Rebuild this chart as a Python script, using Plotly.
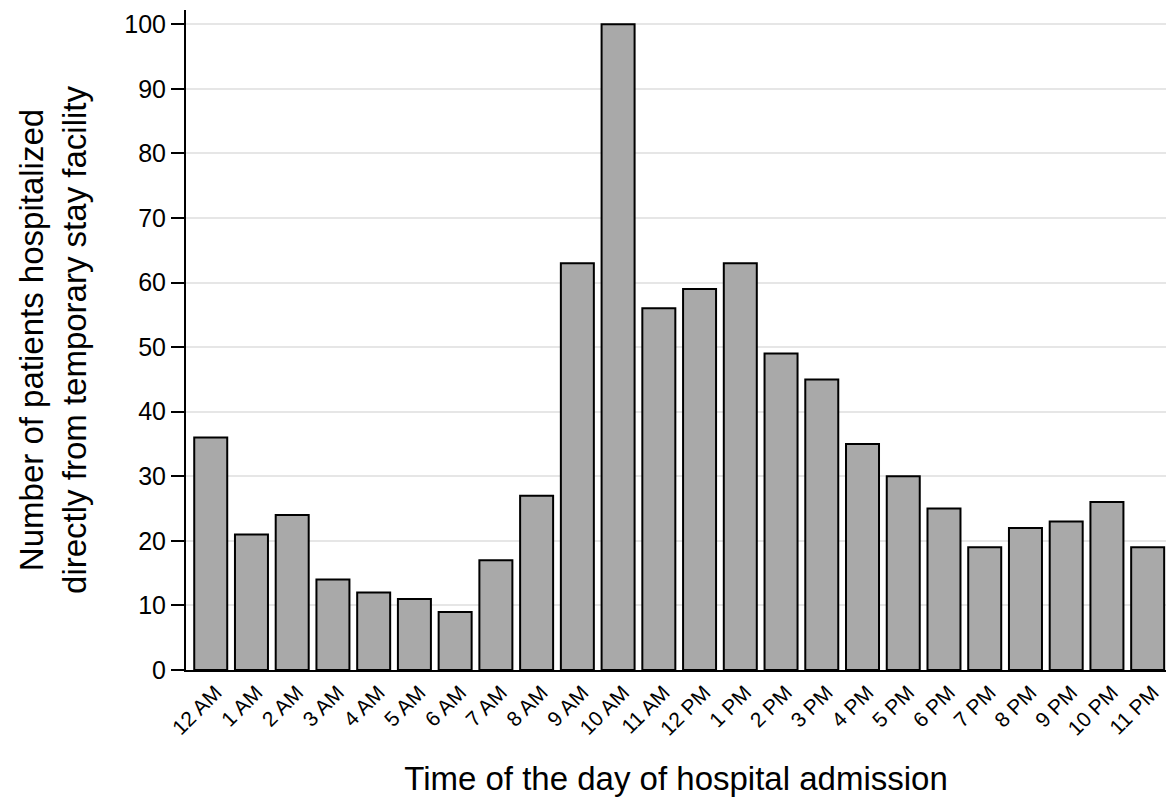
import plotly.graph_objects as go

hours = ["12 AM", "1 AM", "2 AM", "3 AM", "4 AM", "5 AM", "6 AM", "7 AM", "8 AM", "9 AM",
         "10 AM", "11 AM", "12 PM", "1 PM", "2 PM", "3 PM", "4 PM", "5 PM", "6 PM", "7 PM",
         "8 PM", "9 PM", "10 PM", "11 PM"]
patients = [36, 21, 24, 14, 12, 11, 9, 17, 27, 63,
            100, 56, 59, 63, 49, 45, 35, 30, 25, 19,
            22, 23, 26, 19]
y_ticks = [0, 10, 20, 30, 40, 50, 60, 70, 80, 90, 100]

fig = go.Figure(go.Bar(
    x=list(range(len(hours))), y=patients,
    marker=dict(color="#a9a9a9", line=dict(color="black", width=2)),
))

fig.update_layout(
    width=1158, height=789,
    margin=dict(l=178, r=0, t=2, b=127),
    plot_bgcolor="white", paper_bgcolor="white",
    bargap=0.19,
    showlegend=False,
    font=dict(family="Liberation Sans, Arial, sans-serif", color="black"),
    xaxis=dict(
        range=[-0.607, 23.45],
        tickmode="array", tickvals=list(range(len(hours))), ticktext=hours,
        tickangle=-45, tickfont=dict(size=21), ticklabelshift=5,
        ticklabeloverflow="allow",
        showline=True, linecolor="black", linewidth=2,
        ticks="", showgrid=False, zeroline=False,
        title=dict(text="Time of the day of hospital admission", font=dict(size=33), standoff=39),
        automargin=False,
    ),
    yaxis=dict(
        range=[0, 102.2],
        tickmode="array", tickvals=y_ticks,
        tickfont=dict(size=25),
        showline=True, linecolor="black", linewidth=2,
        ticks="outside", ticklen=13, tickwidth=2, tickcolor="black",
        showgrid=True, gridcolor="#e6e6e6", gridwidth=1.5,
        zeroline=False,
        title=dict(text="Number of patients hospitalized<br>directly from temporary stay facility",
                   font=dict(size=33), standoff=28),
        automargin=False,
    ),
)

fig.write_html("out.html")
